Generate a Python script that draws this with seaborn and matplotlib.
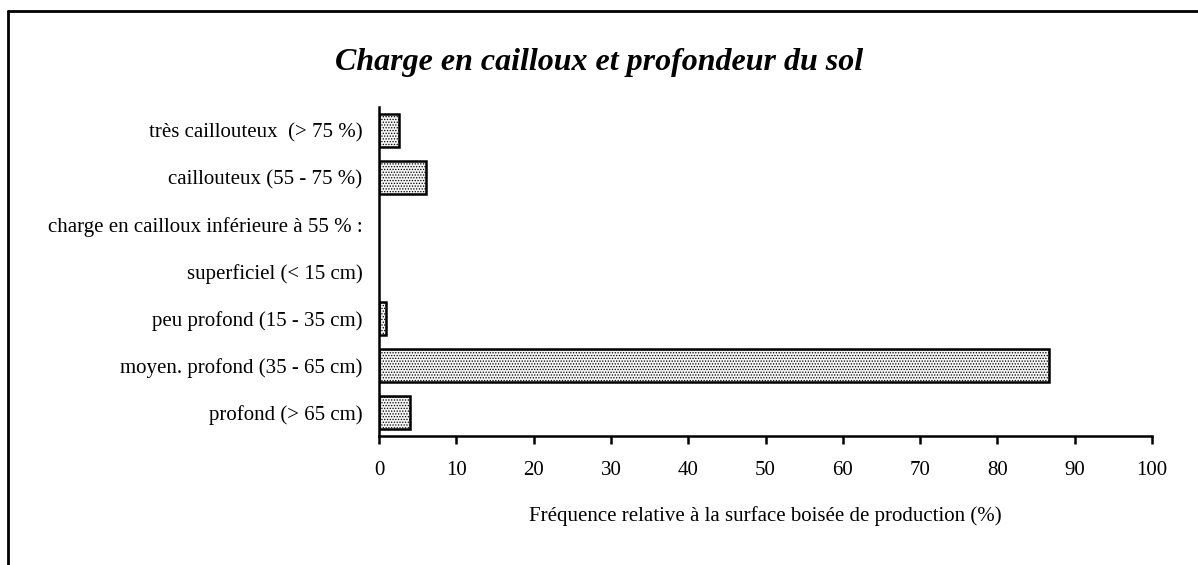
import numpy as np
import pandas as pd
import seaborn as sns
import matplotlib.pyplot as plt
from matplotlib.lines import Line2D

# Data
categories = [
    "très caillouteux  (> 75 %)",
    "caillouteux (55 - 75 %)",
    "charge en cailloux inférieure à 55 % :",
    "superficiel (< 15 cm)",
    "peu profond (15 - 35 cm)",
    "moyen. profond (35 - 65 cm)",
    "profond (> 65 cm)",
]
values = [2.6, 6.1, np.nan, np.nan, 0.9, 86.7, 4.0]
xticks = list(range(0, 101, 10))

df = pd.DataFrame({"categorie": categories, "frequence": values})

sns.set_style("white")
plt.rcParams["font.family"] = ["Liberation Serif", "DejaVu Serif"]
plt.rcParams["text.color"] = "black"
plt.rcParams["axes.labelcolor"] = "black"
plt.rcParams["xtick.color"] = "black"
plt.rcParams["ytick.color"] = "black"
plt.rcParams["hatch.color"] = "#444444"
plt.rcParams["hatch.linewidth"] = 0.6

fig = plt.figure(figsize=(11.98, 5.65), dpi=100)
ax = fig.add_axes([0.3164, 0.2283, 0.6452, 0.5823])

sns.barplot(data=df, x="frequence", y="categorie", orient="h",
            color="#f4f4f4", edgecolor="black", linewidth=1.8,
            width=0.7, ax=ax)
for p in ax.patches:
    p.set_hatch("......")

ax.set_xlim(0, 100)
ax.set_ylim(6.5, -0.5)
ax.set_xticks(xticks)
ax.set_xticklabels([str(t) for t in xticks], fontsize=15)
ax.tick_params(axis="x", direction="out", length=6, width=1.8, pad=12,
               bottom=True)
ax.tick_params(axis="y", length=0, pad=12, labelsize=15)
ax.set_ylabel("")
ax.set_xlabel("Fréquence relative à la surface boisée de production (%)",
              fontsize=15, labelpad=19)

for side in ["top", "right"]:
    ax.spines[side].set_visible(False)
for side in ["left", "bottom"]:
    ax.spines[side].set_linewidth(1.8)
    ax.spines[side].set_color("black")

fig.text(0.5, 0.89, "Charge en cailloux et profondeur du sol",
         ha="center", va="center", fontsize=23, fontweight="bold",
         fontstyle="italic")

# page frame
fig.add_artist(Line2D([0.0065, 0.0065], [0, 0.9805], color="black",
                      linewidth=2, transform=fig.transFigure))
fig.add_artist(Line2D([0.0065, 1], [0.9805, 0.9805], color="black",
                      linewidth=2, transform=fig.transFigure))

fig.savefig("out.png", dpi=100)
